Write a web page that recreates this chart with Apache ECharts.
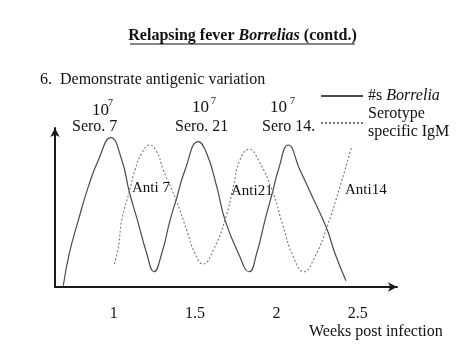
<!DOCTYPE html>
<html>
<head>
<meta charset="utf-8">
<script src="https://cdn.jsdelivr.net/npm/echarts@6/dist/echarts.min.js"></script>
<style>
html,body{margin:0;padding:0;background:#fff;}
#chart{width:474px;height:355px;}
</style>
</head>
<body>
<div id="chart"></div>
<script>
// ---- data (x = weeks post infection, y = relative level, arbitrary units) ----
var solidName = '#s Borrelia';
var dashedName = 'Serotype specific IgM';
var solidX = [0.689,0.726,0.782,0.843,0.905,0.981,1.049,1.095,1.145,1.202,1.247,1.295,1.346,1.383,1.438,1.520,1.571,1.633,1.684,1.766,1.833,1.879,1.930,1.977,2.012,2.073,2.145,2.207,2.309,2.360,2.428];
var solidY = [0.8,21.2,42.1,63.1,79.9,93.9,79.9,59.9,42.1,21.2,9.6,21.2,42.1,54.7,73.6,91.4,84.1,63.1,42.1,21.2,9.6,21.2,42.1,59.9,73.6,89.3,73.6,59.9,36.9,21.2,4.0];
var dashedX = [1.003,1.028,1.049,1.095,1.130,1.172,1.218,1.264,1.304,1.383,1.448,1.499,1.549,1.612,1.684,1.735,1.776,1.833,1.889,1.977,2.042,2.104,2.170,2.237,2.309,2.391,2.463];
var dashedY = [14.5,25.3,42.1,59.9,73.6,84.1,89.3,85.1,73.6,54.7,35.8,21.2,14.5,23.3,42.1,63.1,79.9,86.6,79.9,59.9,37.9,19.1,9.6,19.1,36.9,63.1,88.2];
var tickValues = [1, 1.5, 2, 2.5];
var tickLabels = ['1', '1.5', '2', '2.5'];
var peakLabels = ['Sero. 7', 'Sero. 21', 'Sero 14.'];
var antiLabels = ['Anti 7', 'Anti21', 'Anti14'];

function pairs(xs, ys){ return xs.map(function(x,i){ return [x, ys[i]]; }); }

var SERIF = '"Liberation Serif", "Times New Roman", serif';
var chart = echarts.init(document.getElementById('chart'), null, {renderer:'canvas'});

function txt(x, y, text, size, align, extra){
  var st = {text:text, x:0, y:0, font: (size||16)+'px '+SERIF, fill:'#111',
            textAlign: align||'left', textVerticalAlign:'middle'};
  if (extra) for (var k in extra) st[k]=extra[k];
  return {type:'text', x:x, y:y, style:st, z:10};
}

var option = {
  backgroundColor:'#fff',
  animation:false,
  grid:{left:55, right:77, top:128, bottom:68, containLabel:false},
  xAxis:{
    type:'value', min:0.638, max:2.742,
    splitLine:{show:false},
    axisTick:{show:false},
    axisLine:{show:true, symbol:['none','arrow'], symbolSize:[7,9],
              lineStyle:{color:'#1a1a1a', width:2}},
    axisLabel:{show:true, customValues:tickValues, margin:19,
               fontFamily:SERIF, fontSize:16, color:'#111',
               formatter:function(v){ var i=tickValues.indexOf(v); return i>=0?tickLabels[i]:''; }}
  },
  yAxis:{
    type:'value', min:0, max:100,
    splitLine:{show:false},
    axisTick:{show:false},
    axisLabel:{show:false},
    axisLine:{show:true, symbol:['none','arrow'], symbolSize:[7,9],
              lineStyle:{color:'#1a1a1a', width:2}}
  },
  legend:{
    orient:'vertical', left:320, top:87, itemGap:0, padding:0,
    itemWidth:42, itemHeight:14,
    data:[solidName, dashedName],
    itemStyle:{opacity:0},
    textStyle:{fontFamily:SERIF, fontSize:16, color:'#111', lineHeight:18,
      rich:{i:{fontFamily:SERIF, fontSize:16, fontStyle:'italic', color:'#111', lineHeight:18}}},
    formatter:function(name){
      return name===solidName ? '#s {i|Borrelia}' : 'Serotype\nspecific IgM';
    }
  },
  series:[
    {name:solidName, type:'line', data:pairs(solidX, solidY), smooth:0.5,
     showSymbol:false, symbol:'none',
     lineStyle:{color:'#4a4a4a', width:1.2, type:'solid'}, itemStyle:{color:'#4a4a4a'}},
    {name:dashedName, type:'line', data:pairs(dashedX, dashedY), smooth:0.5,
     showSymbol:false, symbol:'none',
     lineStyle:{color:'#777', width:1.1, type:[2,2]}, itemStyle:{color:'#777'}}
  ],
  graphic:[
    {type:'text', x:242.5, y:36, z:10, style:{
      text:'{b|Relapsing fever }{bi|Borrelias}{b| (contd.)}',
      textAlign:'center', textVerticalAlign:'middle', fill:'#111',
      rich:{
        b:{fontFamily:SERIF, fontSize:16, fontWeight:'bold', fill:'#111'},
        bi:{fontFamily:SERIF, fontSize:16, fontWeight:'bold', fontStyle:'italic', fill:'#111'}
      }}},
    {type:'line', z:10, shape:{x1:130, y1:44, x2:355, y2:44}, style:{stroke:'#111', lineWidth:1}},
    txt(40, 80, '6.  Demonstrate antigenic variation', 16),
    txt(92, 111, '10', 17), txt(108, 103, '7', 10),
    txt(192, 108, '10', 17), txt(211, 101, '7', 10),
    txt(270, 108, '10', 17), txt(290, 101, '7', 10),
    txt(72, 127, peakLabels[0], 16),
    txt(175, 127, peakLabels[1], 16),
    txt(262, 127, peakLabels[2], 16),
    txt(132, 188, antiLabels[0], 15),
    txt(231, 191, antiLabels[1], 15),
    txt(345, 190, antiLabels[2], 15),
    txt(309, 332, 'Weeks post infection', 16)
  ]
};
chart.setOption(option);
</script>
</body>
</html>
